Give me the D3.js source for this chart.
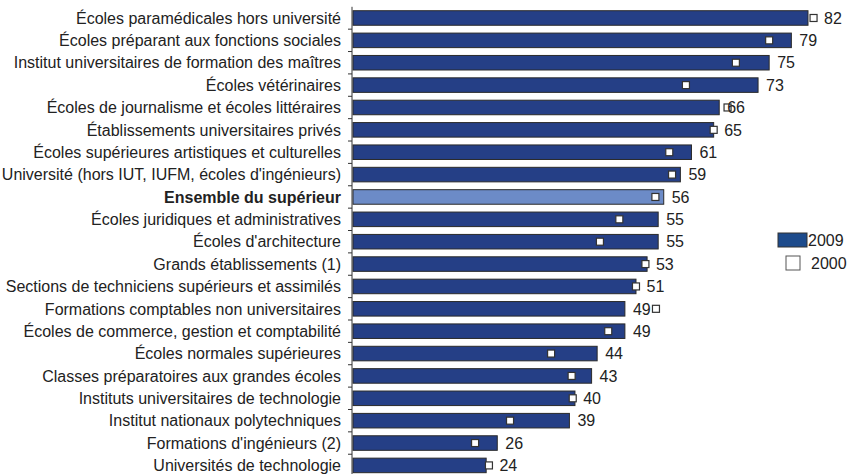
<!DOCTYPE html>
<html>
<head>
<meta charset="utf-8">
<script src="https://cdn.jsdelivr.net/npm/d3@7"></script>
<style>
  body { margin: 0; background: #fff; }
  svg { display: block; }
  text { font-family: "Liberation Sans Narrow", "Arial Narrow", sans-serif; fill: #222; }
</style>
</head>
<body>
<svg id="chart" width="849" height="474"></svg>
<script>
var categories = [
  "Écoles paramédicales hors université",
  "Écoles préparant aux fonctions sociales",
  "Institut universitaires de formation des maîtres",
  "Écoles vétérinaires",
  "Écoles de journalisme et écoles littéraires",
  "Établissements universitaires privés",
  "Écoles supérieures artistiques et culturelles",
  "Université (hors IUT, IUFM, écoles d'ingénieurs)",
  "Ensemble du supérieur",
  "Écoles juridiques et administratives",
  "Écoles d'architecture",
  "Grands établissements (1)",
  "Sections de techniciens supérieurs et assimilés",
  "Formations comptables non universitaires",
  "Écoles de commerce, gestion et comptabilité",
  "Écoles normales supérieures",
  "Classes préparatoires aux grandes écoles",
  "Instituts universitaires de technologie",
  "Institut nationaux polytechniques",
  "Formations d'ingénieurs (2)",
  "Universités de technologie"
];
var values2009 = [82, 79, 75, 73, 66, 65, 61, 59, 56, 55, 55, 53, 51, 49, 49, 44, 43, 40, 39, 26, 24];
var values2000 = [83, 75, 69, 60, 67.5, 65, 57, 57.5, 54.5, 48, 44.5, 52.7, 51, 54.6, 46, 35.7, 39.4, 39.6, 28.3, 22, 24.5];
var highlight = "Ensemble du supérieur";
var legendLabels = ["2009", "2000"];

var svg = d3.select("#chart");

var x = d3.scaleLinear().domain([0, 82]).range([353, 808]);
var y = d3.scaleBand().domain(categories).range([6.8, 476.6])
    .paddingInner(0.35).paddingOuter(0.175);

var rows = categories.map(function(c, i) {
  return { name: c, v09: values2009[i], v00: values2000[i] };
});

// bars
svg.append("g").selectAll("rect")
  .data(rows)
  .enter().append("rect")
    .attr("x", x(0))
    .attr("y", function(d) { return y(d.name); })
    .attr("width", function(d) { return x(d.v09) - x(0); })
    .attr("height", y.bandwidth())
    .attr("fill", function(d) { return d.name === highlight ? "#6c8bc7" : "#253f86"; })
    .attr("stroke", "#2a2a2a")
    .attr("stroke-width", 1);

// 2000 markers
var m = 7;
svg.append("g").selectAll("rect")
  .data(rows)
  .enter().append("rect")
    .attr("x", function(d) { return x(d.v00) - m / 2; })
    .attr("y", function(d) { return y(d.name) + y.bandwidth() / 2 - m / 2; })
    .attr("width", m)
    .attr("height", m)
    .attr("fill", "#fff")
    .attr("stroke", "#333")
    .attr("stroke-width", 1.2);

// value labels
svg.append("g").selectAll("text")
  .data(rows)
  .enter().append("text")
    .attr("x", function(d) {
      var end = x(d.v09), mk = x(d.v00);
      if (mk >= end - 3 && mk <= end + 8) return mk + m / 2 + 7;
      return end + 8;
    })
    .attr("y", function(d) { return y(d.name) + y.bandwidth() / 2; })
    .attr("dy", "0.36em")
    .style("font-size", "16px")
    .text(function(d) { return d3.format(".0f")(d.v09); });

// axis
var axis = svg.append("g")
    .attr("transform", "translate(352,0)");
axis.append("line")
    .attr("x1", 0).attr("x2", 0)
    .attr("y1", y.range()[0]).attr("y2", y.range()[1])
    .attr("stroke", "#333");
axis.selectAll(".tick")
  .data(categories.slice(1))
  .enter().append("line")
    .attr("x1", -4).attr("x2", 0)
    .attr("y1", function(d) { return y(d) - y.step() * y.paddingInner() / 2; })
    .attr("y2", function(d) { return y(d) - y.step() * y.paddingInner() / 2; })
    .attr("stroke", "#333");
axis.selectAll("text")
  .data(categories)
  .enter().append("text")
    .attr("x", -11)
    .attr("y", function(d) { return y(d) + y.bandwidth() / 2; })
    .attr("dy", "0.36em")
    .attr("text-anchor", "end")
    .style("font-size", "16px")
    .style("font-weight", function(d) { return d === highlight ? "bold" : "normal"; })
    .text(function(d) { return d; });

// legend
var legend = svg.append("g");
legend.append("rect")
    .attr("x", 778).attr("y", 233).attr("width", 29).attr("height", 14)
    .attr("fill", "#1d4b8c").attr("stroke", "#333");
legend.append("rect")
    .attr("x", 786).attr("y", 256).attr("width", 14).attr("height", 14)
    .attr("fill", "#fff").attr("stroke", "#555");
legend.selectAll("text")
  .data(legendLabels)
  .enter().append("text")
    .attr("x", function(d, i) { return i === 0 ? 808 : 811; })
    .attr("y", function(d, i) { return 240 + i * 23; })
    .attr("dy", "0.36em")
    .style("font-size", "16px")
    .text(function(d) { return d; });
</script>
</body>
</html>
